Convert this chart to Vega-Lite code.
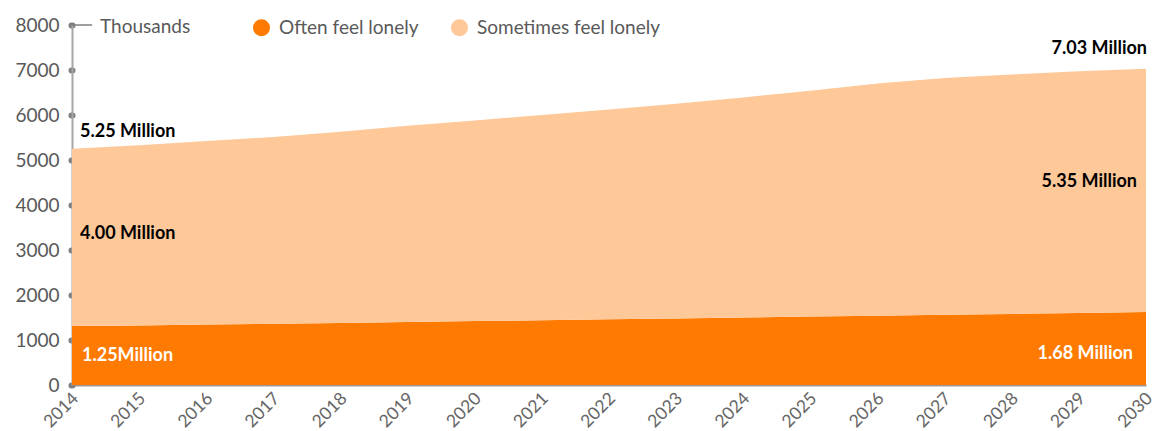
{
  "$schema": "https://vega.github.io/schema/vega-lite/v6.json",
  "width": 1074,
  "height": 360,
  "autosize": {"type": "none"},
  "padding": {"left": 72, "top": 25, "right": 11, "bottom": 46},
  "background": "white",
  "config": {
    "view": {"stroke": null},
    "font": "Lato",
    "axis": {"grid": false, "title": null}
  },
  "data": {
    "values": [
      {"year": 2014, "series": "Often feel lonely", "ord": 1, "value": 1310, "label": "1.25Million"},
      {"year": 2015, "series": "Often feel lonely", "ord": 1, "value": 1325},
      {"year": 2016, "series": "Often feel lonely", "ord": 1, "value": 1345},
      {"year": 2017, "series": "Often feel lonely", "ord": 1, "value": 1360},
      {"year": 2018, "series": "Often feel lonely", "ord": 1, "value": 1380},
      {"year": 2019, "series": "Often feel lonely", "ord": 1, "value": 1400},
      {"year": 2020, "series": "Often feel lonely", "ord": 1, "value": 1420},
      {"year": 2021, "series": "Often feel lonely", "ord": 1, "value": 1440},
      {"year": 2022, "series": "Often feel lonely", "ord": 1, "value": 1460},
      {"year": 2023, "series": "Often feel lonely", "ord": 1, "value": 1480},
      {"year": 2024, "series": "Often feel lonely", "ord": 1, "value": 1500},
      {"year": 2025, "series": "Often feel lonely", "ord": 1, "value": 1520},
      {"year": 2026, "series": "Often feel lonely", "ord": 1, "value": 1540},
      {"year": 2027, "series": "Often feel lonely", "ord": 1, "value": 1560},
      {"year": 2028, "series": "Often feel lonely", "ord": 1, "value": 1580},
      {"year": 2029, "series": "Often feel lonely", "ord": 1, "value": 1600},
      {"year": 2030, "series": "Often feel lonely", "ord": 1, "value": 1620, "label": "1.68 Million"},
      {"year": 2014, "series": "Sometimes feel lonely", "ord": 2, "value": 3940, "label": "4.00 Million", "total_label": "5.25 Million"},
      {"year": 2015, "series": "Sometimes feel lonely", "ord": 2, "value": 4005},
      {"year": 2016, "series": "Sometimes feel lonely", "ord": 2, "value": 4075},
      {"year": 2017, "series": "Sometimes feel lonely", "ord": 2, "value": 4150},
      {"year": 2018, "series": "Sometimes feel lonely", "ord": 2, "value": 4250},
      {"year": 2019, "series": "Sometimes feel lonely", "ord": 2, "value": 4360},
      {"year": 2020, "series": "Sometimes feel lonely", "ord": 2, "value": 4460},
      {"year": 2021, "series": "Sometimes feel lonely", "ord": 2, "value": 4560},
      {"year": 2022, "series": "Sometimes feel lonely", "ord": 2, "value": 4660},
      {"year": 2023, "series": "Sometimes feel lonely", "ord": 2, "value": 4770},
      {"year": 2024, "series": "Sometimes feel lonely", "ord": 2, "value": 4890},
      {"year": 2025, "series": "Sometimes feel lonely", "ord": 2, "value": 5020},
      {"year": 2026, "series": "Sometimes feel lonely", "ord": 2, "value": 5160},
      {"year": 2027, "series": "Sometimes feel lonely", "ord": 2, "value": 5260},
      {"year": 2028, "series": "Sometimes feel lonely", "ord": 2, "value": 5320},
      {"year": 2029, "series": "Sometimes feel lonely", "ord": 2, "value": 5370},
      {"year": 2030, "series": "Sometimes feel lonely", "ord": 2, "value": 5410, "label": "5.35 Million", "total_label": "7.03 Million"}
    ]
  },
  "encoding": {
    "x": {
      "field": "year",
      "type": "quantitative",
      "scale": {"domain": [2014, 2030], "nice": false, "zero": false},
      "axis": {
        "values": [2014, 2015, 2016, 2017, 2018, 2019, 2020, 2021, 2022, 2023, 2024, 2025, 2026, 2027, 2028, 2029, 2030],
        "format": "d",
        "labelAngle": -45,
        "labelAlign": "center",
        "labelBaseline": "middle",
        "labelPadding": 25,
        "labelOffset": -11,
        "ticks": false,
        "labelFontSize": 17.5,
        "labelColor": "#666666",
        "labelFlush": false,
        "labelOverlap": false,
        "domainColor": "#999999",
        "domainWidth": 2
      }
    }
  },
  "layer": [
    {
      "mark": {"type": "area", "opacity": 1},
      "encoding": {
        "y": {
          "field": "value",
          "type": "quantitative",
          "stack": "zero",
          "scale": {"domain": [0, 8000], "nice": false},
          "axis": {
            "values": [0, 1000, 2000, 3000, 4000, 5000, 6000, 7000, 8000],
            "format": "d",
            "labelFontSize": 19,
            "labelColor": "#595959",
            "labelPadding": 12,
            "tickSize": 1,
            "tickWidth": 6,
            "tickCap": "round",
            "tickColor": "#7f7f7f",
            "domainColor": "#a6a6a6",
            "domainWidth": 2
          }
        },
        "color": {
          "field": "series",
          "type": "nominal",
          "scale": {"domain": ["Often feel lonely", "Sometimes feel lonely"], "range": ["#FF7A00", "#FFC898"]},
          "legend": {
            "title": null,
            "orient": "none",
            "direction": "horizontal",
            "legendX": 180,
            "legendY": -7,
            "symbolType": "circle",
            "symbolSize": 290,
            "symbolStrokeWidth": 0,
            "symbolOpacity": 1,
            "labelFontSize": 19,
            "labelColor": "#595959",
            "labelOffset": 8,
            "columnPadding": 31,
            "labelLimit": 400
          }
        },
        "order": {"field": "ord", "type": "quantitative"}
      }
    },
    {
      "transform": [{"filter": "datum.year == 2014 && datum.ord == 1"}],
      "mark": {"type": "rule", "color": "#7f7f7f", "strokeWidth": 1.5},
      "encoding": {
        "x": {"datum": 2014},
        "x2": {"datum": 2014.3},
        "y": {"datum": 8000}
      }
    },
    {
      "transform": [{"filter": "datum.year == 2014 && datum.ord == 1"}],
      "mark": {"type": "text", "align": "left", "baseline": "middle", "dx": 28, "dy": 1.5, "fontSize": 19, "color": "#595959", "text": "Thousands"},
      "encoding": {
        "x": {"datum": 2014},
        "y": {"datum": 8000}
      }
    },
    {
      "transform": [
        {"stack": "value", "groupby": ["year"], "sort": [{"field": "ord", "order": "ascending"}], "as": ["v0", "v1"]},
        {"filter": "datum.year == 2014 && datum.total_label != null"}
      ],
      "mark": {"type": "text", "align": "left", "baseline": "middle", "dx": 8, "dy": -17, "fontSize": 18, "fontWeight": "bold", "color": "#000000"},
      "encoding": {
        "y": {"field": "v1", "type": "quantitative", "stack": null},
        "text": {"field": "total_label"}
      }
    },
    {
      "transform": [
        {"stack": "value", "groupby": ["year"], "sort": [{"field": "ord", "order": "ascending"}], "as": ["v0", "v1"]},
        {"filter": "datum.year == 2030 && datum.total_label != null"}
      ],
      "mark": {"type": "text", "align": "right", "baseline": "middle", "dx": 1, "dy": -20, "fontSize": 18, "fontWeight": "bold", "color": "#000000"},
      "encoding": {
        "y": {"field": "v1", "type": "quantitative", "stack": null},
        "text": {"field": "total_label"}
      }
    },
    {
      "transform": [
        {"stack": "value", "groupby": ["year"], "sort": [{"field": "ord", "order": "ascending"}], "as": ["v0", "v1"]},
        {"calculate": "(datum.v0 + datum.v1) / 2", "as": "mid"},
        {"filter": "datum.year == 2014 && datum.series == 'Sometimes feel lonely'"}
      ],
      "mark": {"type": "text", "align": "left", "baseline": "middle", "dx": 8, "dy": -3, "fontSize": 18, "fontWeight": "bold", "color": "#000000"},
      "encoding": {
        "y": {"field": "mid", "type": "quantitative", "stack": null},
        "text": {"field": "label"}
      }
    },
    {
      "transform": [
        {"stack": "value", "groupby": ["year"], "sort": [{"field": "ord", "order": "ascending"}], "as": ["v0", "v1"]},
        {"calculate": "(datum.v0 + datum.v1) / 2", "as": "mid"},
        {"filter": "datum.year == 2030 && datum.series == 'Sometimes feel lonely'"}
      ],
      "mark": {"type": "text", "align": "right", "baseline": "middle", "dx": -9, "dy": -8, "fontSize": 18, "fontWeight": "bold", "color": "#000000"},
      "encoding": {
        "y": {"field": "mid", "type": "quantitative", "stack": null},
        "text": {"field": "label"}
      }
    },
    {
      "transform": [
        {"stack": "value", "groupby": ["year"], "sort": [{"field": "ord", "order": "ascending"}], "as": ["v0", "v1"]},
        {"calculate": "(datum.v0 + datum.v1) / 2", "as": "mid"},
        {"filter": "datum.year == 2014 && datum.series == 'Often feel lonely'"}
      ],
      "mark": {"type": "text", "align": "left", "baseline": "middle", "dx": 10, "dy": 0, "fontSize": 18, "fontWeight": "bold", "color": "#FFFFFF"},
      "encoding": {
        "y": {"field": "mid", "type": "quantitative", "stack": null},
        "text": {"field": "label"}
      }
    },
    {
      "transform": [
        {"stack": "value", "groupby": ["year"], "sort": [{"field": "ord", "order": "ascending"}], "as": ["v0", "v1"]},
        {"calculate": "(datum.v0 + datum.v1) / 2", "as": "mid"},
        {"filter": "datum.year == 2030 && datum.series == 'Often feel lonely'"}
      ],
      "mark": {"type": "text", "align": "right", "baseline": "middle", "dx": -13, "dy": 5, "fontSize": 18, "fontWeight": "bold", "color": "#FFFFFF"},
      "encoding": {
        "y": {"field": "mid", "type": "quantitative", "stack": null},
        "text": {"field": "label"}
      }
    }
  ]
}
